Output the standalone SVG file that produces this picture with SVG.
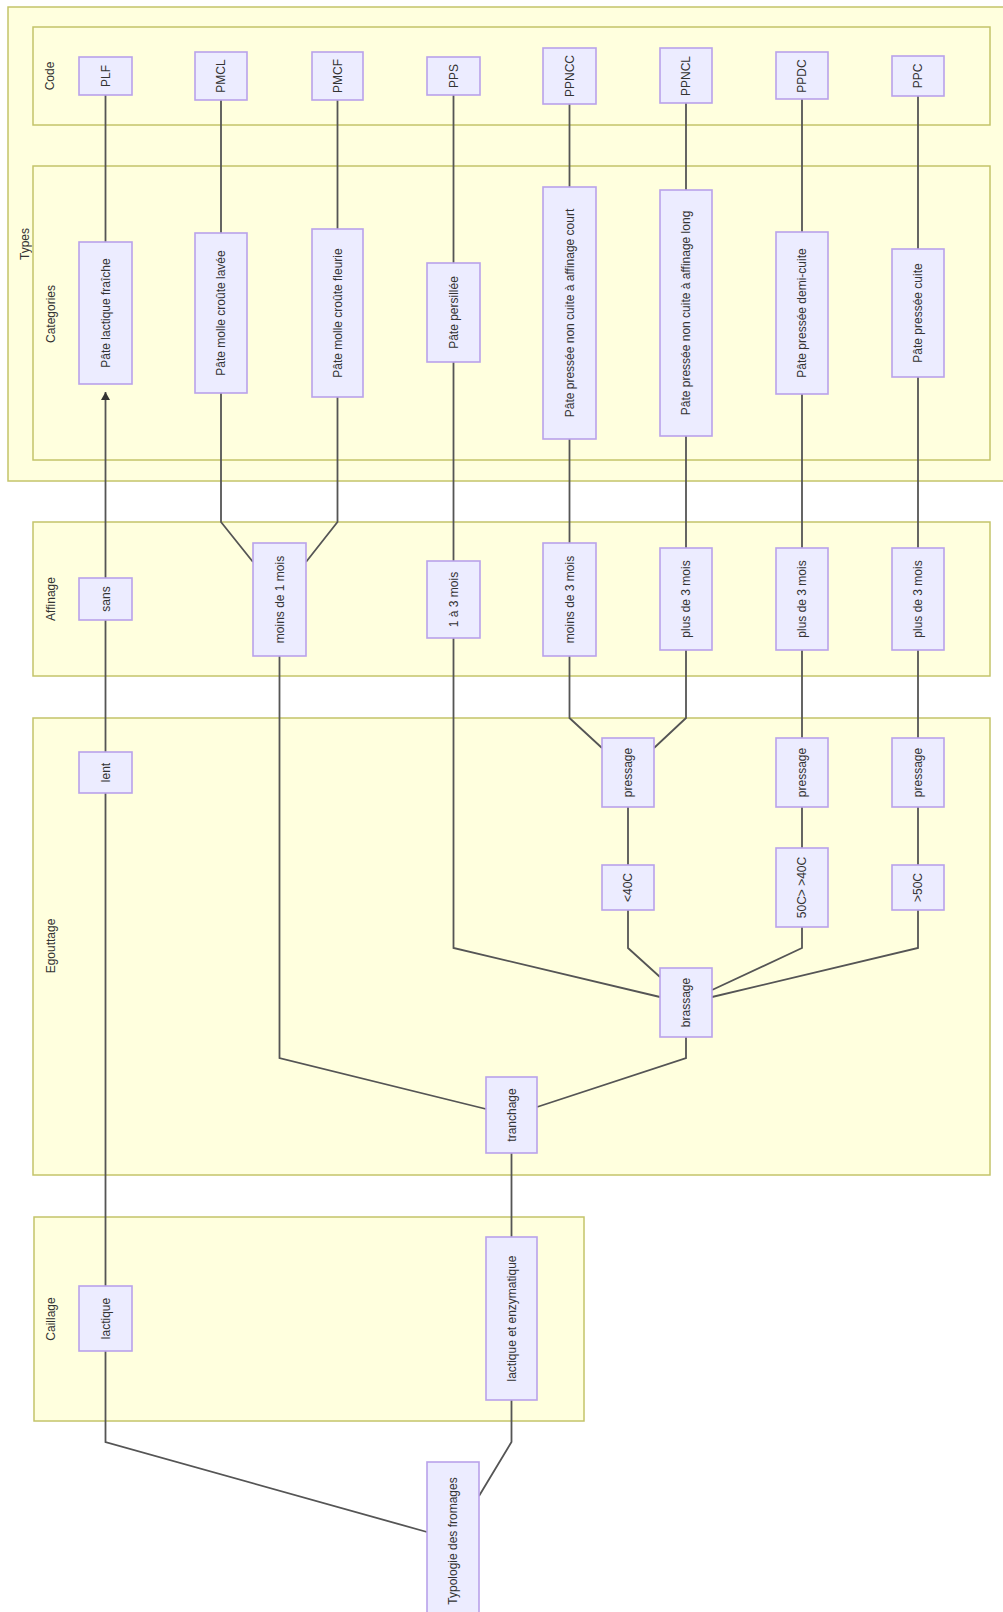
<svg xmlns="http://www.w3.org/2000/svg" width="1003" height="1612" viewBox="0 0 1003 1612">
<style>
.cl{fill:#ffffde;stroke:#c4c46a;stroke-width:1.5}
.nd{fill:#ececff;stroke:#b9a2ea;stroke-width:1.6}
.t{font-family:"Liberation Sans",Arial,sans-serif;font-size:12px;fill:#333;text-anchor:middle;dominant-baseline:central}
.e{fill:none;stroke:#555;stroke-width:1.8}
</style>
<defs>
<marker id="arr" markerWidth="13" markerHeight="9" refX="8" refY="4.5" orient="auto" markerUnits="userSpaceOnUse">
<path d="M0,0 L8,4.5 L0,9 z" fill="#333"/>
</marker>
</defs>
<rect width="1003" height="1612" fill="#fff"/>
<g id="clusters">
<g id="Types"><rect class="cl" x="8" y="7" width="1010" height="474"/><text class="t" transform="translate(25,244) rotate(-90)">Types</text></g>
<g id="Code"><rect class="cl" x="33" y="27" width="957" height="98"/><text class="t" transform="translate(50,76) rotate(-90)">Code</text></g>
<g id="Categories"><rect class="cl" x="33" y="166" width="957" height="294"/><text class="t" transform="translate(51,314) rotate(-90)">Categories</text></g>
<g id="Affinage"><rect class="cl" x="33" y="522" width="957" height="154"/><text class="t" transform="translate(51,599) rotate(-90)">Affinage</text></g>
<g id="Egouttage"><rect class="cl" x="33" y="718" width="957" height="457"/><text class="t" transform="translate(51,946) rotate(-90)">Egouttage</text></g>
<g id="Caillage"><rect class="cl" x="34" y="1217" width="550" height="204"/><text class="t" transform="translate(51,1319) rotate(-90)">Caillage</text></g>
</g>
<g id="edges">
<polyline class="e" points="427,1532 105.5,1442 105.5,1351"/>
<polyline class="e" points="479,1496 511.5,1442 511.5,1400"/>
<polyline class="e" points="105.5,1286 105.5,793"/>
<polyline class="e" points="105.5,752 105.5,620"/>
<polyline class="e" points="105.5,578 105.5,392" marker-end="url(#arr)"/>
<polyline class="e" points="105.5,242 105.5,95"/>
<polyline class="e" points="511.5,1237 511.5,1153"/>
<polyline class="e" points="486,1109 279.5,1058 279.5,656"/>
<polyline class="e" points="537,1107 686,1058 686,1037"/>
<polyline class="e" points="253,562 221,522 221,393"/>
<polyline class="e" points="306,562 337.5,522 337.5,397"/>
<polyline class="e" points="221,233 221,100"/>
<polyline class="e" points="337.5,229 337.5,100"/>
<polyline class="e" points="660,997 453.5,948 453.5,638"/>
<polyline class="e" points="453.5,561 453.5,362"/>
<polyline class="e" points="453.5,263 453.5,95"/>
<polyline class="e" points="660,977 628,948 628,910"/>
<polyline class="e" points="628,865 628,807"/>
<polyline class="e" points="602,748 569.5,718 569.5,656"/>
<polyline class="e" points="654,748 686,718 686,650"/>
<polyline class="e" points="569.5,543 569.5,439"/>
<polyline class="e" points="569.5,187 569.5,104"/>
<polyline class="e" points="686,548 686,436"/>
<polyline class="e" points="686,190 686,103"/>
<polyline class="e" points="712,990 802,948 802,927"/>
<polyline class="e" points="802,848 802,807"/>
<polyline class="e" points="802,738 802,650"/>
<polyline class="e" points="802,548 802,394"/>
<polyline class="e" points="802,232 802,99"/>
<polyline class="e" points="712,997 918,948 918,910"/>
<polyline class="e" points="918,865 918,807"/>
<polyline class="e" points="918,738 918,650"/>
<polyline class="e" points="918,548 918,377"/>
<polyline class="e" points="918,249 918,96"/>
</g>
<g id="nodes">
<g id="PLF"><rect class="nd" x="79" y="57" width="53" height="38"/><text class="t" transform="translate(105.5,76) rotate(-90)">PLF</text></g>
<g id="PMCL"><rect class="nd" x="195" y="52" width="52" height="48"/><text class="t" transform="translate(221,76) rotate(-90)">PMCL</text></g>
<g id="PMCF"><rect class="nd" x="312" y="52" width="51" height="48"/><text class="t" transform="translate(337.5,76) rotate(-90)">PMCF</text></g>
<g id="PPS"><rect class="nd" x="427" y="57" width="53" height="38"/><text class="t" transform="translate(453.5,76) rotate(-90)">PPS</text></g>
<g id="PPNCC"><rect class="nd" x="543" y="48" width="53" height="56"/><text class="t" transform="translate(569.5,76) rotate(-90)">PPNCC</text></g>
<g id="PPNCL"><rect class="nd" x="660" y="48" width="52" height="55"/><text class="t" transform="translate(686,76) rotate(-90)">PPNCL</text></g>
<g id="PPDC"><rect class="nd" x="776" y="52" width="52" height="47"/><text class="t" transform="translate(802,76) rotate(-90)">PPDC</text></g>
<g id="PPC"><rect class="nd" x="892" y="56" width="52" height="40"/><text class="t" transform="translate(918,76) rotate(-90)">PPC</text></g>

<g id="catPLF"><rect class="nd" x="79" y="242" width="53" height="142"/><text class="t" transform="translate(105.5,313) rotate(-90)">Pâte lactique fraîche</text></g>
<g id="catPMCL"><rect class="nd" x="195" y="233" width="52" height="160"/><text class="t" transform="translate(221,313) rotate(-90)">Pâte molle croûte lavée</text></g>
<g id="catPMCF"><rect class="nd" x="312" y="229" width="51" height="168"/><text class="t" transform="translate(337.5,313) rotate(-90)">Pâte molle croûte fleurie</text></g>
<g id="catPPS"><rect class="nd" x="427" y="263" width="53" height="99"/><text class="t" transform="translate(453.5,312.5) rotate(-90)">Pâte persillée</text></g>
<g id="catPPNCC"><rect class="nd" x="543" y="187" width="53" height="252"/><text class="t" transform="translate(569.5,313) rotate(-90)">Pâte pressée non cuite à affinage court</text></g>
<g id="catPPNCL"><rect class="nd" x="660" y="190" width="52" height="246"/><text class="t" transform="translate(686,313) rotate(-90)">Pâte pressée non cuite à affinage long</text></g>
<g id="catPPDC"><rect class="nd" x="776" y="232" width="52" height="162"/><text class="t" transform="translate(802,313) rotate(-90)">Pâte pressée demi-cuite</text></g>
<g id="catPPC"><rect class="nd" x="892" y="249" width="52" height="128"/><text class="t" transform="translate(918,313) rotate(-90)">Pâte pressée cuite</text></g>

<g id="sans"><rect class="nd" x="79" y="578" width="53" height="42"/><text class="t" transform="translate(105.5,599) rotate(-90)">sans</text></g>
<g id="m1"><rect class="nd" x="253" y="543" width="53" height="113"/><text class="t" transform="translate(279.5,599.5) rotate(-90)">moins de 1 mois</text></g>
<g id="a13"><rect class="nd" x="427" y="561" width="53" height="77"/><text class="t" transform="translate(453.5,599.5) rotate(-90)">1 à 3 mois</text></g>
<g id="m3"><rect class="nd" x="543" y="543" width="53" height="113"/><text class="t" transform="translate(569.5,599.5) rotate(-90)">moins de 3 mois</text></g>
<g id="p3a"><rect class="nd" x="660" y="548" width="52" height="102"/><text class="t" transform="translate(686,599) rotate(-90)">plus de 3 mois</text></g>
<g id="p3b"><rect class="nd" x="776" y="548" width="52" height="102"/><text class="t" transform="translate(802,599) rotate(-90)">plus de 3 mois</text></g>
<g id="p3c"><rect class="nd" x="892" y="548" width="52" height="102"/><text class="t" transform="translate(918,599) rotate(-90)">plus de 3 mois</text></g>

<g id="lent"><rect class="nd" x="79" y="752" width="53" height="41"/><text class="t" transform="translate(105.5,772.5) rotate(-90)">lent</text></g>
<g id="pr1"><rect class="nd" x="602" y="738" width="52" height="69"/><text class="t" transform="translate(628,772.5) rotate(-90)">pressage</text></g>
<g id="pr2"><rect class="nd" x="776" y="738" width="52" height="69"/><text class="t" transform="translate(802,772.5) rotate(-90)">pressage</text></g>
<g id="pr3"><rect class="nd" x="892" y="738" width="52" height="69"/><text class="t" transform="translate(918,772.5) rotate(-90)">pressage</text></g>
<g id="t40"><rect class="nd" x="602" y="865" width="52" height="45"/><text class="t" transform="translate(628,887.5) rotate(-90)">&lt;40C</text></g>
<g id="t4050"><rect class="nd" x="776" y="848" width="52" height="79"/><text class="t" transform="translate(802,887.5) rotate(-90)">50C&gt; &gt;40C</text></g>
<g id="t50"><rect class="nd" x="892" y="865" width="52" height="45"/><text class="t" transform="translate(918,887.5) rotate(-90)">&gt;50C</text></g>
<g id="brassage"><rect class="nd" x="660" y="968" width="52" height="69"/><text class="t" transform="translate(686,1002.5) rotate(-90)">brassage</text></g>
<g id="tranchage"><rect class="nd" x="486" y="1077" width="51" height="76"/><text class="t" transform="translate(511.5,1115) rotate(-90)">tranchage</text></g>

<g id="lactique"><rect class="nd" x="79" y="1286" width="53" height="65"/><text class="t" transform="translate(105.5,1318.5) rotate(-90)">lactique</text></g>
<g id="lactenz"><rect class="nd" x="486" y="1237" width="51" height="163"/><text class="t" transform="translate(511.5,1318.5) rotate(-90)">lactique et enzymatique</text></g>

<g id="typologie"><rect class="nd" x="427" y="1462" width="52" height="158"/><text class="t" transform="translate(453,1541) rotate(-90)">Typologie des fromages</text></g>
</g>
</svg>
